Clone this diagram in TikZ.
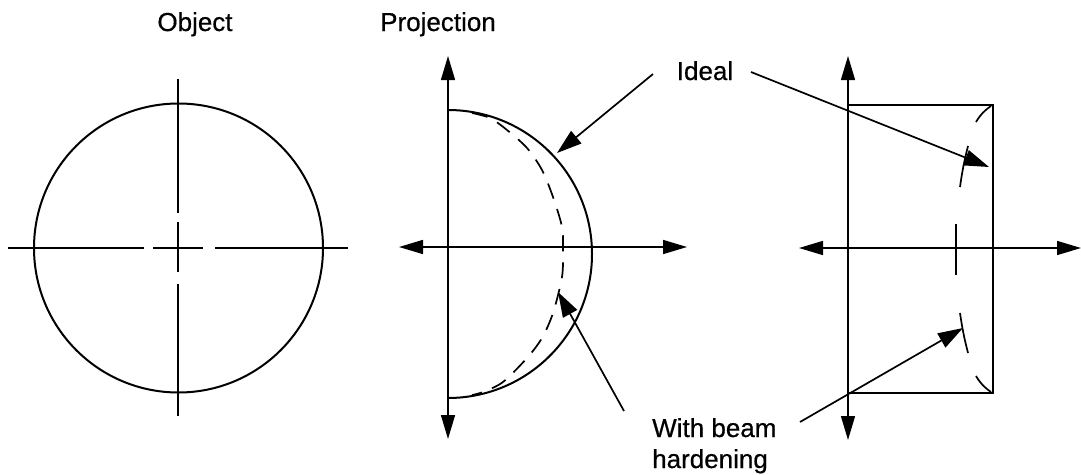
\documentclass[tikz,border=0pt]{standalone}
\usepackage{fontspec}
\setmainfont[FakeBold=0.6]{Liberation Sans}
\usetikzlibrary{arrows.meta}
\tikzset{
  x=1pt,y=-1pt,
  thick line/.style={line width=2pt,black},
  thin line/.style={line width=1.5pt,black},
  axis/.style={thin line,{Triangle[length=24pt,width=14pt]}-{Triangle[length=24pt,width=14pt]}},
  pointer/.style={line width=1.7pt,black,-{Triangle[length=25pt,width=16pt]}},
  lab/.style={font=\fontsize{26}{31}\selectfont,inner sep=0pt,text=black},
  hard/.style={line width=1.7pt,black,line cap=butt}
}
\begin{document}
\begin{tikzpicture}
\useasboundingbox (0,0) rectangle (1081,474);
\node[lab,anchor=base] (object) at (195,31) {Object};
\node[lab,anchor=base] (projection) at (438,31) {Projection};
\node[lab,anchor=base] (ideal) at (705,80) {Ideal};
\node[lab,anchor=base west] (beam) at (652,437) {With beam};
\node[lab,anchor=base west] (beam2) at (652,468) {hardening};
% object
\draw[thick line] (178.5,248) circle[radius=144.5pt];
\draw[thin line] (8,248) -- (144,248) (153,248) -- (203,248) (215,248) -- (348,248);
\draw[thin line] (178,79) -- (178,213) (178,222) -- (178,272) (178,284) -- (178,416);
% projection
\draw[thick line] (448,110) arc[start angle=90,end angle=-90,radius=144pt];
\draw[line width=1.7pt,black,dash pattern=on 16pt off 11pt] plot[smooth] coordinates {(472,113) (490,118) (507,130) (527,148) (542,170) (553,197) (562,227) (563,250) (562,277) (553,313) (542,338) (527,358) (503,382) (483,392) (472,395)};
\coordinate (pa) at (448,56); \coordinate (pb) at (448,439);
\draw[axis] (pa) -- (pb);
\coordinate (pc) at (399,247); \coordinate (pd) at (687,247);
\draw[axis] (pc) -- (pd);
\coordinate (ia) at (653,74); \coordinate (ib) at (557,153);
\draw[pointer] (ia) -- (ib);
\coordinate (wa) at (624,411); \coordinate (wb) at (558,292);
\draw[pointer] (wa) -- (wb);
% right
\draw[thick line] (848,105) rectangle (993,393);
\coordinate (qa) at (848,56); \coordinate (qb) at (848,440);
\draw[axis] (qa) -- (qb);
\coordinate (qc) at (799,248); \coordinate (qd) at (1081,248);
\draw[axis] (qc) -- (qd);
\draw[hard] (991,106) to[bend right=12] (976,122);
\draw[hard] (968,146) to[bend right=3] (960,187);
\draw[hard] (956,224) -- (956,275);
\draw[hard] (960,313) to[bend right=3] (968,353);
\draw[hard] (976,376) to[bend right=12] (991,392);
\coordinate (ra) at (751,72); \coordinate (rb) at (989,167);
\draw[pointer] (ra) -- (rb);
\coordinate (sa) at (800,422); \coordinate (sb) at (963,328);
\draw[pointer] (sa) -- (sb);
\end{tikzpicture}
\end{document}
